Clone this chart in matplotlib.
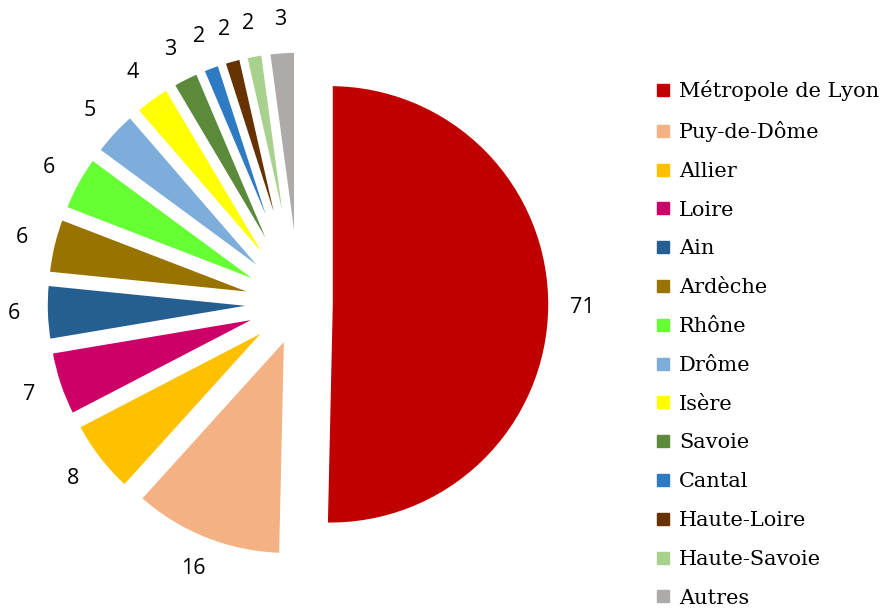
import numpy as np
import matplotlib
matplotlib.use("Agg")
import matplotlib.pyplot as plt
from matplotlib.lines import Line2D

departements = ["Métropole de Lyon", "Puy-de-Dôme", "Allier", "Loire", "Ain",
                "Ardèche", "Rhône", "Drôme", "Isère", "Savoie", "Cantal",
                "Haute-Loire", "Haute-Savoie", "Autres"]
valeurs = [71, 16, 8, 7, 6, 6, 6, 5, 4, 3, 2, 2, 2, 3]
couleurs = ["#C00000", "#F4B183", "#FFC000", "#CC0066", "#255E91",
            "#997300", "#66FF33", "#7DAEDB", "#FFFF00", "#5B8A3B",
            "#2E7BC4", "#663300", "#A9D18E", "#AEAAAA"]

W, H = 894, 609
fig = plt.figure(figsize=(W/100, H/100), dpi=100)
ax = fig.add_axes([0, 0, 1, 1])

# axes in pixel units, y going up
r = 221
ecart = [31] + [33]*(len(valeurs)-1)
wedges, _, textes = ax.pie(valeurs, colors=couleurs, startangle=90, counterclock=False,
                           center=(299, 305), radius=r, explode=ecart,
                           autopct=lambda p: "%d" % round(p*sum(valeurs)/100),
                           pctdistance=1.14,
                           wedgeprops=dict(edgecolor="white", linewidth=4.0),
                           textprops=dict(fontsize=15.5, family="Open Sans", color="black"))
ax.set_xlim(0, W)
ax.set_ylim(0, H)
ax.set_aspect("equal")
ax.axis("off")

poignees = [Line2D([], [], marker="s", ls="", color=c, markersize=8) for c in couleurs]
ax.legend(poignees, departements, loc="upper left", bbox_to_anchor=(647/W, 1-72/H),
          frameon=False, prop=dict(family="DejaVu Serif", size=15),
          labelspacing=0.95, handlelength=0.7, handletextpad=0.45, borderaxespad=0)

fig.savefig("out.png", dpi=100)
